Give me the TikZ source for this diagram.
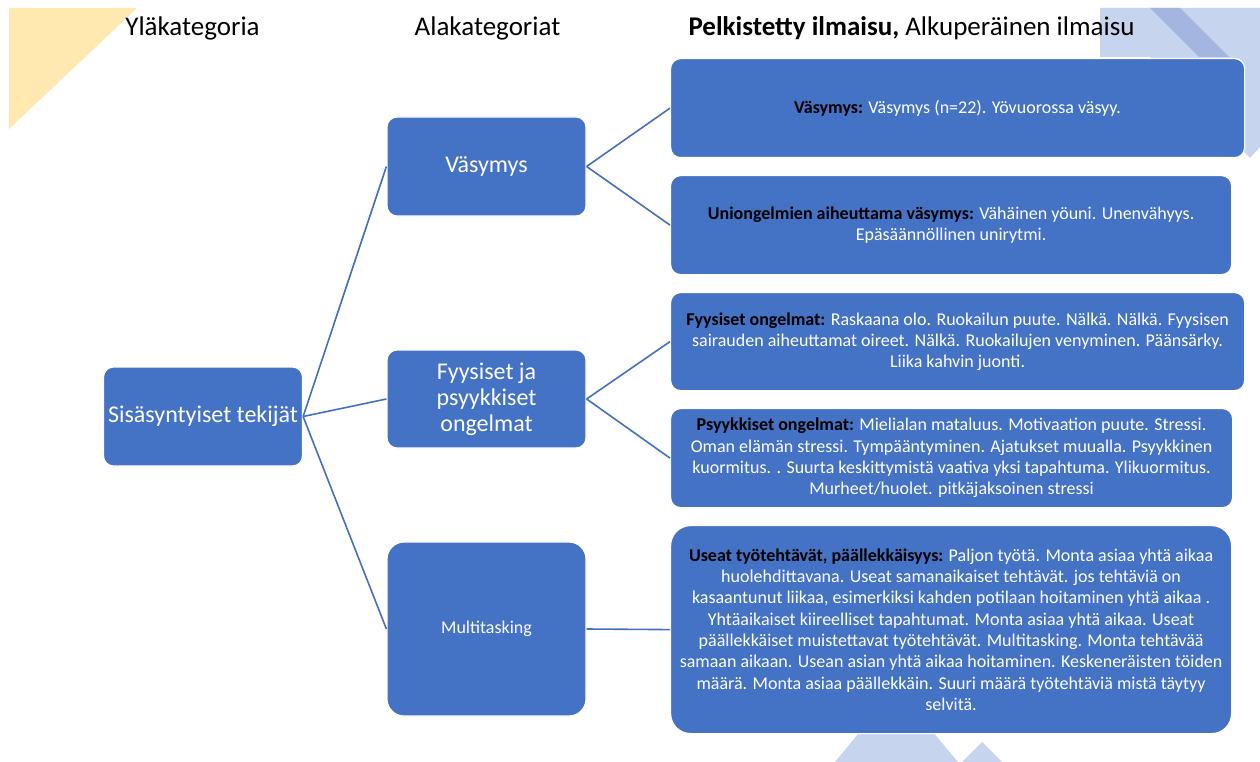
\documentclass[tikz,border=0pt]{standalone}
\usepackage{fontspec}
\setmainfont{Carlito}
\usetikzlibrary{math}
\definecolor{boxblue}{HTML}{4472C4}
\definecolor{lineblue}{HTML}{4570BC}
\definecolor{paleblue}{HTML}{C7D4ED}
\definecolor{midblue}{HTML}{A4B6E0}
\definecolor{paleyellow}{HTML}{FFE9B1}
\newcommand{\lead}[1]{{\bfseries\color{black}#1}}

\begin{document}
\begin{tikzpicture}[x=1pt,y=-1pt]

\tikzmath{
	\W = 199;
}

\tikzset{catbox/.style={
    draw=white, line width=1.2pt, fill=boxblue, text=white,
    rounded corners=#1, inner sep=0pt, align=center
  },
  catbox/.default=10pt,
  leafbox/.style={catbox=#1, anchor=north west,
    font=\fontsize{18}{21.3}\selectfont},
  leafbox/.default=10pt,
  colhead/.style={anchor=base, font=\fontsize{27}{32}\selectfont},
  catfont/.style={font=\fontsize{24}{26}\selectfont},
  link/.style={draw=lineblue, line width=1.6pt}
}

\fill[white] (0,0) rectangle (1260,762);
\useasboundingbox (0,0) rectangle (1260,762);

% corner shapes
\fill[paleyellow] (9,8) -- (137,8) -- (9,129) -- cycle;
\fill[paleblue] (1100,8) -- (1260,8) -- (1260,147) -- (1250,158) -- (1150,57) -- (1100,57) -- cycle;
\fill[midblue] (1150,8) -- (1180,8) -- (1229,57) -- (1199,57) -- cycle;
\fill[paleblue] (835,762) -- (896,688) -- (958,762) -- cycle;
\fill[paleblue] (962,762) -- (982,742) -- (1002,762) -- cycle;

% column titles
\node[colhead] (hdtop) at (192.5,36) {Yläkategoria};
\node[colhead] (hdsub) at (487.5,36) {Alakategoriat};
\node[colhead, anchor=base west] (hdexpr) at (685,36) {\textbf{Pelkistetty ilmaisu,} Alkuperäinen ilmaisu};

% categories
\node[catbox, catfont, minimum width=\W, minimum height=99] (root) at (203,416.5) {Sisäsyntyiset tekijät};
\node[catbox, catfont, minimum width=\W, minimum height=99] (vasymys) at (486.5,166.5) {Väsymys};
\node[catbox, catfont, minimum width=\W, minimum height=98] (ongelmat) at (486.5,399) {Fyysiset ja\\psyykkiset\\ongelmat};
\node[catbox=17pt, font=\fontsize{18}{21}\selectfont, minimum width=\W, minimum height=174] (multi) at (486.5,629) {Multitasking};

% expressions
\node[leafbox, minimum width=574, minimum height=99] (vasdet) at (670,58)
  {\lead{Väsymys:} Väsymys (n=22). Yövuorossa väsyy.};
\node[leafbox, minimum width=561, minimum height=99] (unidet) at (670,175)
  {\lead{Uniongelmien aiheuttama väsymys:} Vähäinen yöuni. Unenvähyys.\\
   Epäsäännöllinen unirytmi.};
\node[leafbox, minimum width=574, minimum height=98] (fyydet) at (670,292)
  {\lead{Fyysiset ongelmat:} Raskaana olo. Ruokailun puute. Nälkä. Nälkä. Fyysisen\\
   sairauden aiheuttamat oireet. Nälkä. Ruokailujen venyminen. Päänsärky.\\
   Liika kahvin juonti.};
\node[leafbox, minimum width=562, minimum height=99] (psydet) at (670,408)
  {\lead{Psyykkiset ongelmat:} Mielialan mataluus. Motivaation puute. Stressi.\\
   Oman elämän stressi. Tympääntyminen. Ajatukset muualla. Psyykkinen\\
   kuormitus. . Suurta keskittymistä vaativa yksi tapahtuma. Ylikuormitus.\\
   Murheet/huolet. pitkäjaksoinen stressi};
\node[leafbox=20pt, minimum width=561, minimum height=208] (useat) at (670,525)
  {\lead{Useat työtehtävät, päällekkäisyys:} Paljon työtä. Monta asiaa yhtä aikaa\\
   huolehdittavana. Useat samanaikaiset tehtävät. jos tehtäviä on\\
   kasaantunut liikaa, esimerkiksi kahden potilaan hoitaminen yhtä aikaa .\\
   Yhtäaikaiset kiireelliset tapahtumat. Monta asiaa yhtä aikaa. Useat\\
   päällekkäiset muistettavat työtehtävät. Multitasking. Monta tehtävää\\
   samaan aikaan. Usean asian yhtä aikaa hoitaminen. Keskeneräisten töiden\\
   määrä. Monta asiaa päällekkäin. Suuri määrä työtehtäviä mistä täytyy\\
   selvitä.};

% connectors
\draw[link] (root.east) -- (vasymys.west);
\draw[link] (root.east) -- (ongelmat.west);
\draw[link] (root.east) -- (multi.west);
\draw[link] (vasymys.east) -- (vasdet.west);
\draw[link] (vasymys.east) -- (unidet.west);
\draw[link] (ongelmat.east) -- (fyydet.west);
\draw[link] (ongelmat.east) -- (psydet.west);
\draw[link] (multi.east) -- (useat.west);

\end{tikzpicture}
\end{document}
